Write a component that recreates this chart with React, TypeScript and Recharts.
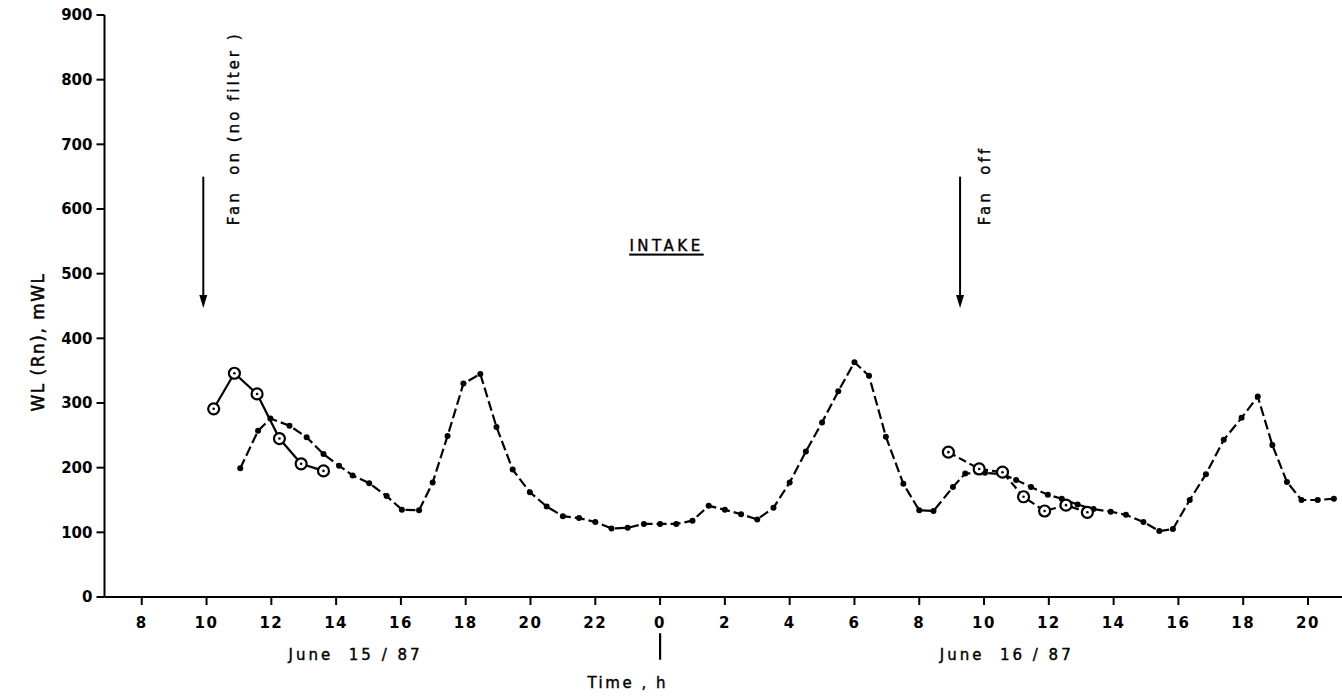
import React from 'react';
import { ComposedChart, Line, XAxis, YAxis, ReferenceLine, ReferenceDot } from 'recharts';

// Time in hours since 0 h on June 15 (24 = 0 h June 16)
const mainHours = [11.04, 11.59, 11.97, 12.56, 13.09, 13.61, 14.09, 14.51, 15.02, 15.56, 16.03, 16.56, 16.98, 17.44, 17.93, 18.45, 18.95, 19.45, 19.98, 20.5, 21.0, 21.5, 22.0, 22.5, 23.0, 23.5, 24.0, 24.5, 25.0, 25.5, 26.0, 26.5, 27.0, 27.5, 28.0, 28.5, 29.0, 29.5, 30.0, 30.45, 30.97, 31.51, 32.0, 32.44, 33.04, 33.42, 34.03, 34.58, 34.99, 35.45, 35.97, 36.4, 36.89, 37.38, 37.91, 38.38, 38.92, 39.41, 39.83, 40.35, 40.85, 41.4, 41.95, 42.45, 42.9, 43.35, 43.8, 44.3, 44.8];
const mainWL = [199, 257, 276, 265, 247, 221, 203, 188, 176, 156, 135, 134, 177, 249, 330, 345, 263, 197, 162, 140, 125, 122, 116, 106, 107, 113, 113, 113, 118, 141, 135, 128, 120, 138, 177, 225, 270, 318, 363, 342, 248, 175, 134, 133, 170, 191, 192, 190, 181, 170, 158, 152, 143, 136, 132, 127, 116, 102, 105, 150, 190, 243, 277, 310, 235, 178, 150, 150, 152];

const circ1Hours = [10.22, 10.86, 11.56, 12.25, 12.92, 13.61];
const circ1WL = [291, 346, 314, 245, 206, 195];

const circ2Hours = [32.9, 33.85, 34.57, 35.22, 35.87, 36.53, 37.19];
const circ2WL = [224, 198, 193, 155, 133, 142, 131];

const xTicks = [8, 10, 12, 14, 16, 18, 20, 22, 24, 26, 28, 30, 32, 34, 36, 38, 40, 42, 44];
const yTicks = [0, 100, 200, 300, 400, 500, 600, 700, 800, 900];

const mainData = mainHours.map((h, i) => ({ h, wl: mainWL[i] }));
const circ1Data = circ1Hours.map((h, i) => ({ h, wl: circ1WL[i] }));
const circ2Data = circ2Hours.map((h, i) => ({ h, wl: circ2WL[i] }));

const FONT = '"DejaVu Sans", sans-serif';

const OpenDot = (props: any) => {
  const { cx, cy, index } = props;
  if (cx == null || cy == null) return null;
  return (
    <g key={`od-${index}`}>
      <circle cx={cx} cy={cy} r={5.5} fill="#fff" stroke="#000" strokeWidth={2.2} />
      <circle cx={cx} cy={cy} r={1.3} fill="#000" />
    </g>
  );
};

const arrowHead = (props: any) => {
  const { cx, cy } = props;
  return <polygon points={`${cx - 4},${cy - 13} ${cx + 4},${cy - 13} ${cx},${cy}`} fill="#000" />;
};

const makeText = (txt: string, rotate: boolean, opts: any = {}) => (props: any) => {
  const { cx, cy } = props;
  return (
    <text
      x={cx}
      y={cy}
      transform={rotate ? `rotate(-90 ${cx} ${cy})` : undefined}
      textAnchor={opts.anchor || 'middle'}
      dominantBaseline="central"
      fontFamily={FONT}
      fontSize={opts.size || 15}
      fontWeight={opts.weight || 'normal'}
      letterSpacing={opts.ls != null ? opts.ls : 2}
      fill="#000"
      stroke="#000"
      strokeWidth={0.4}
      style={{ whiteSpace: 'pre' }}
      textDecoration={opts.underline ? 'underline' : undefined}
    >
      {txt}
    </text>
  );
};

export default function App() {
  return (
    <div style={{ position: 'absolute', left: 0, top: 0, width: 1342, height: 696, background: '#fff' }}>
      <ComposedChart width={1342} height={696} margin={{ top: 15, right: 0, bottom: 0, left: 0 }}>
        <XAxis
          dataKey="h"
          type="number"
          domain={[6.85, 45.05]}
          ticks={xTicks}
          allowDataOverflow
          tickFormatter={(v: number) => String(v % 24)}
          height={99}
          tickSize={8}
          tickMargin={12}
          stroke="#000"
          strokeWidth={2}
          tick={{ fill: '#000', fontFamily: FONT, fontSize: 15, fontWeight: 'bold', letterSpacing: 1.5 }}
        />
        <YAxis
          type="number"
          domain={[0, 900]}
          ticks={yTicks}
          width={104.5}
          tickSize={8}
          tickMargin={4}
          stroke="#000"
          strokeWidth={2}
          tick={{ fill: '#000', fontFamily: FONT, fontSize: 15, fontWeight: 'bold' }}
        />
        <Line
          data={mainData}
          dataKey="wl"
          stroke="#000"
          strokeWidth={2.2}
          strokeDasharray="10 4"
          dot={{ r: 3, fill: '#000', stroke: 'none' }}
          isAnimationActive={false}
        />
        <Line
          data={circ1Data}
          dataKey="wl"
          stroke="#000"
          strokeWidth={2.2}
          dot={OpenDot}
          isAnimationActive={false}
        />
        <Line
          data={circ2Data}
          dataKey="wl"
          stroke="#000"
          strokeWidth={2.2}
          strokeDasharray="8 4"
          dot={OpenDot}
          isAnimationActive={false}
        />
        {/* arrows */}
        <ReferenceLine segment={[{ x: 9.9, y: 650 }, { x: 9.9, y: 460 }]} stroke="#000" strokeWidth={2} />
        <ReferenceDot x={9.9} y={447} r={0} shape={arrowHead} />
        <ReferenceLine segment={[{ x: 33.26, y: 650 }, { x: 33.26, y: 460 }]} stroke="#000" strokeWidth={2} />
        <ReferenceDot x={33.26} y={447} r={0} shape={arrowHead} />
        {/* annotations */}
        <ReferenceDot x={10.85} y={575} r={0} shape={makeText('Fan  on (no filter )', true, { anchor: 'start', ls: 3 })} />
        <ReferenceDot x={34.03} y={575} r={0} shape={makeText('Fan  off', true, { anchor: 'start', ls: 3 })} />
        <ReferenceDot x={24.2} y={543} r={0} shape={makeText('INTAKE', false, { underline: true, ls: 3.5 })} />
        <ReferenceDot x={14.6} y={-90} r={0} ifOverflow="visible" shape={makeText('June  15 / 87', false, { ls: 3 })} />
        <ReferenceDot x={34.7} y={-90} r={0} ifOverflow="visible" shape={makeText('June  16 / 87', false, { ls: 3 })} />
        <ReferenceDot x={23.0} y={-133} r={0} ifOverflow="visible" shape={makeText('Time , h', false, { ls: 2.5 })} />
        <ReferenceLine
          segment={[{ x: 24, y: -56 }, { x: 24, y: -97 }]}
          ifOverflow="visible"
          stroke="#000"
          strokeWidth={2.2}
        />
      </ComposedChart>
      <div
        style={{
          position: 'absolute',
          left: 38,
          top: 342,
          transform: 'translate(-50%, -50%) rotate(-90deg)',
          fontFamily: FONT,
          fontSize: 17,
          fontWeight: 'normal',
          whiteSpace: 'nowrap',
          letterSpacing: 1.5,
          WebkitTextStroke: '0.5px #000',
        }}
      >
        WL (Rn), mWL
      </div>
    </div>
  );
}
